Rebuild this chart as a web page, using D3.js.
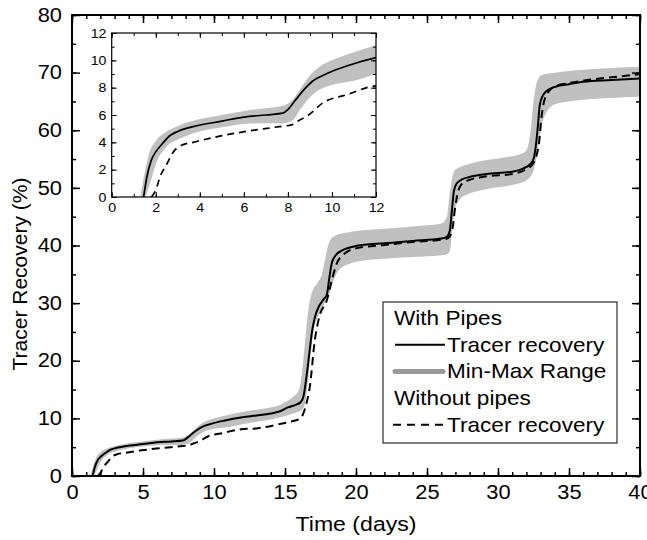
<!DOCTYPE html>
<html>
<head>
<meta charset="utf-8">
<script src="https://cdn.jsdelivr.net/npm/d3@7"></script>
<style>
  html, body { margin: 0; padding: 0; background: #fff; }
  svg { display: block; font-family: "Liberation Sans", Arial, sans-serif; }
</style>
</head>
<body>
<svg id="chart" width="647" height="540"></svg>
<script>
// ---------- DATA ----------
// With pipes: tracer recovery (solid)
const pipeDays = [1.45, 1.6, 1.8, 2.0, 2.3, 2.65, 3.0, 3.7, 5, 6, 7, 7.8, 8.0, 8.3, 8.7, 9.1, 9.8, 10.7, 12, 13, 14, 14.6, 15.2, 15.8, 16.1, 16.3, 16.5, 16.7, 16.9, 17.1, 17.4, 17.7, 17.95, 18.1, 18.3, 18.6, 19, 20, 22, 24, 26, 26.4, 26.6, 26.75, 26.9, 27.1, 27.5, 28, 29.2, 31, 31.8, 32.3, 32.5, 32.65, 32.8, 32.95, 33.2, 33.6, 34.1, 35, 36, 38, 40];
const pipeRecovery = [0, 1.5, 2.7, 3.3, 3.9, 4.5, 4.8, 5.15, 5.55, 5.85, 6.0, 6.15, 6.4, 7.0, 7.8, 8.45, 9.05, 9.6, 10.2, 10.5, 10.85, 11.2, 11.9, 12.4, 12.8, 13.8, 17, 21, 25, 27.5, 29.5, 30.6, 31.5, 34, 37, 38.4, 39.1, 39.9, 40.4, 40.8, 41.2, 41.5, 42.5, 46, 49.5, 50.8, 51.5, 51.9, 52.4, 52.8, 53.4, 54.2, 55, 57, 60.5, 64.5, 66.2, 67.1, 67.6, 68.0, 68.4, 68.7, 69.0];

// With pipes: min-max range (grey band)
const rangeDays = [1.3, 1.5, 1.7, 2.0, 2.5, 3, 4, 5, 6, 7, 7.8, 8.2, 8.6, 9, 9.5, 10, 11, 12, 13, 14, 14.5, 15, 15.5, 16, 16.2, 16.4, 16.6, 16.8, 17.0, 17.3, 17.6, 17.9, 18.1, 18.3, 18.6, 19, 19.5, 20, 22, 24, 26, 26.4, 26.6, 26.8, 27.0, 27.3, 27.8, 28.5, 30, 31, 31.5, 32, 32.3, 32.5, 32.7, 32.9, 33.1, 33.4, 34, 35, 36, 38, 40];
const rangeMax = [0, 1.8, 3.2, 4.1, 4.8, 5.2, 5.7, 6.0, 6.3, 6.5, 6.7, 7.1, 8.0, 8.9, 9.6, 10.0, 10.6, 11.1, 11.5, 11.9, 12.2, 12.8, 13.6, 15, 18, 23, 28, 31, 32.5, 33.5, 35, 38.5, 40.5, 41.3, 41.8, 42.1, 42.3, 42.5, 42.9, 43.3, 43.8, 45, 49, 52, 53.2, 53.6, 54, 54.5, 55.1, 55.5, 55.8, 56.5, 60, 65, 68, 69.2, 69.6, 69.8, 70.0, 70.3, 70.5, 70.8, 71.0];
const rangeMin = [0, 0, 0.8, 2.4, 3.7, 4.2, 4.8, 5.1, 5.35, 5.4, 5.4, 5.6, 6.5, 7.3, 7.9, 8.2, 8.5, 9.0, 9.4, 9.8, 10.1, 10.4, 10.8, 11.2, 11.5, 12.5, 16, 21, 25, 27.5, 29, 30.5, 31.5, 33, 35, 36.2, 36.8, 37.2, 37.7, 38.0, 38.3, 38.5, 39, 43, 46.5, 48, 48.8, 49.4, 50.1, 50.5, 50.8, 51.3, 52, 53, 55, 58, 61, 63, 64.5, 65, 65.3, 65.6, 65.8];

// Without pipes: tracer recovery (dashed)
const noPipeDays = [1.8, 2.0, 2.2, 2.5, 2.8, 3.2, 3.7, 4.9, 6.1, 7.6, 8.2, 8.5, 8.9, 9.6, 10.7, 11.7, 13.1, 14.6, 15.5, 16.1, 16.3, 16.5, 16.75, 17.1, 17.45, 17.95, 18.3, 18.65, 19.1, 20, 22, 24, 26, 26.5, 26.8, 26.95, 27.2, 27.5, 28, 29.2, 31, 31.8, 32.4, 32.7, 32.9, 33.05, 33.2, 33.5, 34, 35, 36, 38, 40];
const noPipeRecovery = [0, 0.5, 1.5, 2.4, 3.3, 3.8, 4.0, 4.45, 4.8, 5.15, 5.3, 5.6, 5.95, 6.9, 7.5, 8.05, 8.3, 9.0, 9.5, 10.0, 10.9, 12.5, 15.5, 23.6, 27.9, 30.5, 34, 36.9, 38.4, 39.5, 40.1, 40.6, 41.0, 41.3, 43, 46, 49.5, 50.8, 51.4, 52.0, 52.4, 53, 54, 55.5, 58, 62, 64.5, 66.5, 67.6, 68.2, 68.6, 69.2, 69.7];

// Axis ticks
const xTicks = [0, 5, 10, 15, 20, 25, 30, 35, 40];
const yTicks = [0, 10, 20, 30, 40, 50, 60, 70, 80];
const insetTicks = [0, 2, 4, 6, 8, 10, 12];

const legendItems = ["With Pipes", "Tracer recovery", "Min-Max Range", "Without pipes", "Tracer recovery"];

// ---------- BUILD ----------
const rangeRows = rangeDays.map((d, i) => ({x: d, lo: rangeMin[i], hi: rangeMax[i]}));
const pipeRows = pipeDays.map((d, i) => ({x: d, y: pipeRecovery[i]}));
const noPipeRows = noPipeDays.map((d, i) => ({x: d, y: noPipeRecovery[i]}));

const svg = d3.select("#chart");
const band = "#c0c0c0";
const SX = 1.1; // horizontal stretch of text seen in the reference

function drawPanel(g, x, y, opts) {
  const [x0, x1] = x.range();
  const [y0, y1] = y.range();
  const clipId = opts.id + "-clip";
  g.append("clipPath").attr("id", clipId)
    .append("rect").attr("x", x0).attr("y", y1).attr("width", x1 - x0).attr("height", y0 - y1);
  if (opts.bg) {
    g.append("rect").attr("x", x0).attr("y", y1).attr("width", x1 - x0).attr("height", y0 - y1).attr("fill", "#fff");
  }
  const plot = g.append("g").attr("clip-path", `url(#${clipId})`);
  plot.append("path").datum(rangeRows)
    .attr("fill", band)
    .attr("d", d3.area().x(d => x(d.x)).y0(d => y(d.lo)).y1(d => y(d.hi)).curve(d3.curveMonotoneX));
  plot.append("path").datum(noPipeRows)
    .attr("fill", "none").attr("stroke", "#000").attr("stroke-width", opts.lw)
    .attr("stroke-dasharray", opts.dash)
    .attr("d", d3.line().x(d => x(d.x)).y(d => y(d.y)).curve(d3.curveMonotoneX));
  plot.append("path").datum(pipeRows)
    .attr("fill", "none").attr("stroke", "#000").attr("stroke-width", opts.lw)
    .attr("d", d3.line().x(d => x(d.x)).y(d => y(d.y)).curve(d3.curveMonotoneX));

  const mk = (axisFn, scale, ticks, size) =>
    axisFn(scale).tickValues(ticks).tickSize(size).tickFormat(() => "");
  const styleAxis = sel => {
    sel.select(".domain").remove();
    sel.selectAll("line").attr("stroke", "#000").attr("stroke-width", opts.tw);
    sel.selectAll("text").attr("fill", "#000").attr("font-size", opts.fs)
      .attr("font-family", "'Liberation Sans', Arial, sans-serif")
      .attr("transform", `scale(${opts.sx},1)`);
  };
  const xs = opts.xMinor, ys = opts.yMinor;
  // bottom
  g.append("g").attr("transform", `translate(0,${y0})`).call(mk(d3.axisTop, x, xs, opts.minor)).call(styleAxis);
  g.append("g").attr("transform", `translate(0,${y0})`).call(mk(d3.axisTop, x, opts.xTicks, opts.major)).call(styleAxis);
  g.append("g").attr("transform", `translate(0,${y0})`)
    .call(d3.axisBottom(x).tickValues(opts.xTicks).tickSize(0).tickPadding(opts.xPad).tickFormat(d3.format("d")))
    .call(styleAxis);
  // top
  g.append("g").attr("transform", `translate(0,${y1})`).call(mk(d3.axisBottom, x, xs, opts.minor)).call(styleAxis);
  g.append("g").attr("transform", `translate(0,${y1})`).call(mk(d3.axisBottom, x, opts.xTicks, opts.major)).call(styleAxis);
  // left
  g.append("g").attr("transform", `translate(${x0},0)`).call(mk(d3.axisRight, y, ys, opts.minor)).call(styleAxis);
  g.append("g").attr("transform", `translate(${x0},0)`).call(mk(d3.axisRight, y, opts.yTicks, opts.major)).call(styleAxis);
  g.append("g").attr("transform", `translate(${x0},0)`)
    .call(d3.axisLeft(y).tickValues(opts.yTicks).tickSize(0).tickPadding(opts.yPad).tickFormat(d3.format("d")))
    .call(styleAxis);
  // right
  g.append("g").attr("transform", `translate(${x1},0)`).call(mk(d3.axisLeft, y, ys, opts.minor)).call(styleAxis);
  g.append("g").attr("transform", `translate(${x1},0)`).call(mk(d3.axisLeft, y, opts.yTicks, opts.major)).call(styleAxis);

  g.append("rect").attr("x", x0).attr("y", y1).attr("width", x1 - x0).attr("height", y0 - y1)
    .attr("fill", "none").attr("stroke", "#000").attr("stroke-width", opts.fw);
}

// main panel
const X = d3.scaleLinear().domain([0, 40]).range([72, 640]);
const Y = d3.scaleLinear().domain([0, 80]).range([476, 15]);
drawPanel(svg.append("g"), X, Y, {
  id: "main", lw: 2, dash: "8,5", tw: 1.5, fw: 2, fs: 19.5, sx: 1.12,
  major: 8, minor: 4, xPad: 9, yPad: 9,
  xTicks: xTicks, yTicks: yTicks,
  xMinor: d3.range(0, 41, 1), yMinor: d3.range(0, 81, 5)
});

// axis titles
svg.append("text").attr("transform", `translate(${(X(0) + X(40)) / 2},531) scale(${SX},1)`)
  .attr("text-anchor", "middle").attr("font-size", 21).text("Time (days)");
svg.append("text").attr("transform", `translate(27,274) rotate(-90)`)
  .attr("text-anchor", "middle").attr("font-size", 21).text("Tracer Recovery (%)");

// legend
const lg = svg.append("g");
lg.append("rect").attr("x", 383).attr("y", 302).attr("width", 234).attr("height", 141)
  .attr("fill", "#fff").attr("stroke", "#000").attr("stroke-width", 1);
const rowY = i => 318 + i * 26.7;
legendItems.forEach((t, i) => {
  const tx = (i === 0 || i === 3) ? 394 : 447;
  lg.append("text").attr("transform", `translate(${tx},${rowY(i) + 7}) scale(1.13,1)`)
    .attr("font-size", 20).text(t);
});
lg.append("line").attr("x1", 395).attr("x2", 445).attr("y1", rowY(1)).attr("y2", rowY(1))
  .attr("stroke", "#000").attr("stroke-width", 2);
lg.append("line").attr("x1", 395).attr("x2", 443).attr("y1", rowY(2)).attr("y2", rowY(2))
  .attr("stroke", "#999").attr("stroke-width", 5).attr("stroke-linecap", "round");
lg.append("line").attr("x1", 393).attr("x2", 445).attr("y1", rowY(4)).attr("y2", rowY(4))
  .attr("stroke", "#000").attr("stroke-width", 2).attr("stroke-dasharray", "8,6");

// inset panel
const XI = d3.scaleLinear().domain([0, 12]).range([111.7, 376]);
const YI = d3.scaleLinear().domain([0, 12]).range([197, 33]);
drawPanel(svg.append("g"), XI, YI, {
  id: "inset", lw: 1.7, dash: "7,5", tw: 1, fw: 1.2, fs: 13.5, sx: 1.05, bg: true,
  major: 5, minor: 3, xPad: 5, yPad: 5,
  xTicks: insetTicks, yTicks: insetTicks,
  xMinor: d3.range(0, 13, 1), yMinor: d3.range(0, 13, 1)
});
</script>
</body>
</html>
